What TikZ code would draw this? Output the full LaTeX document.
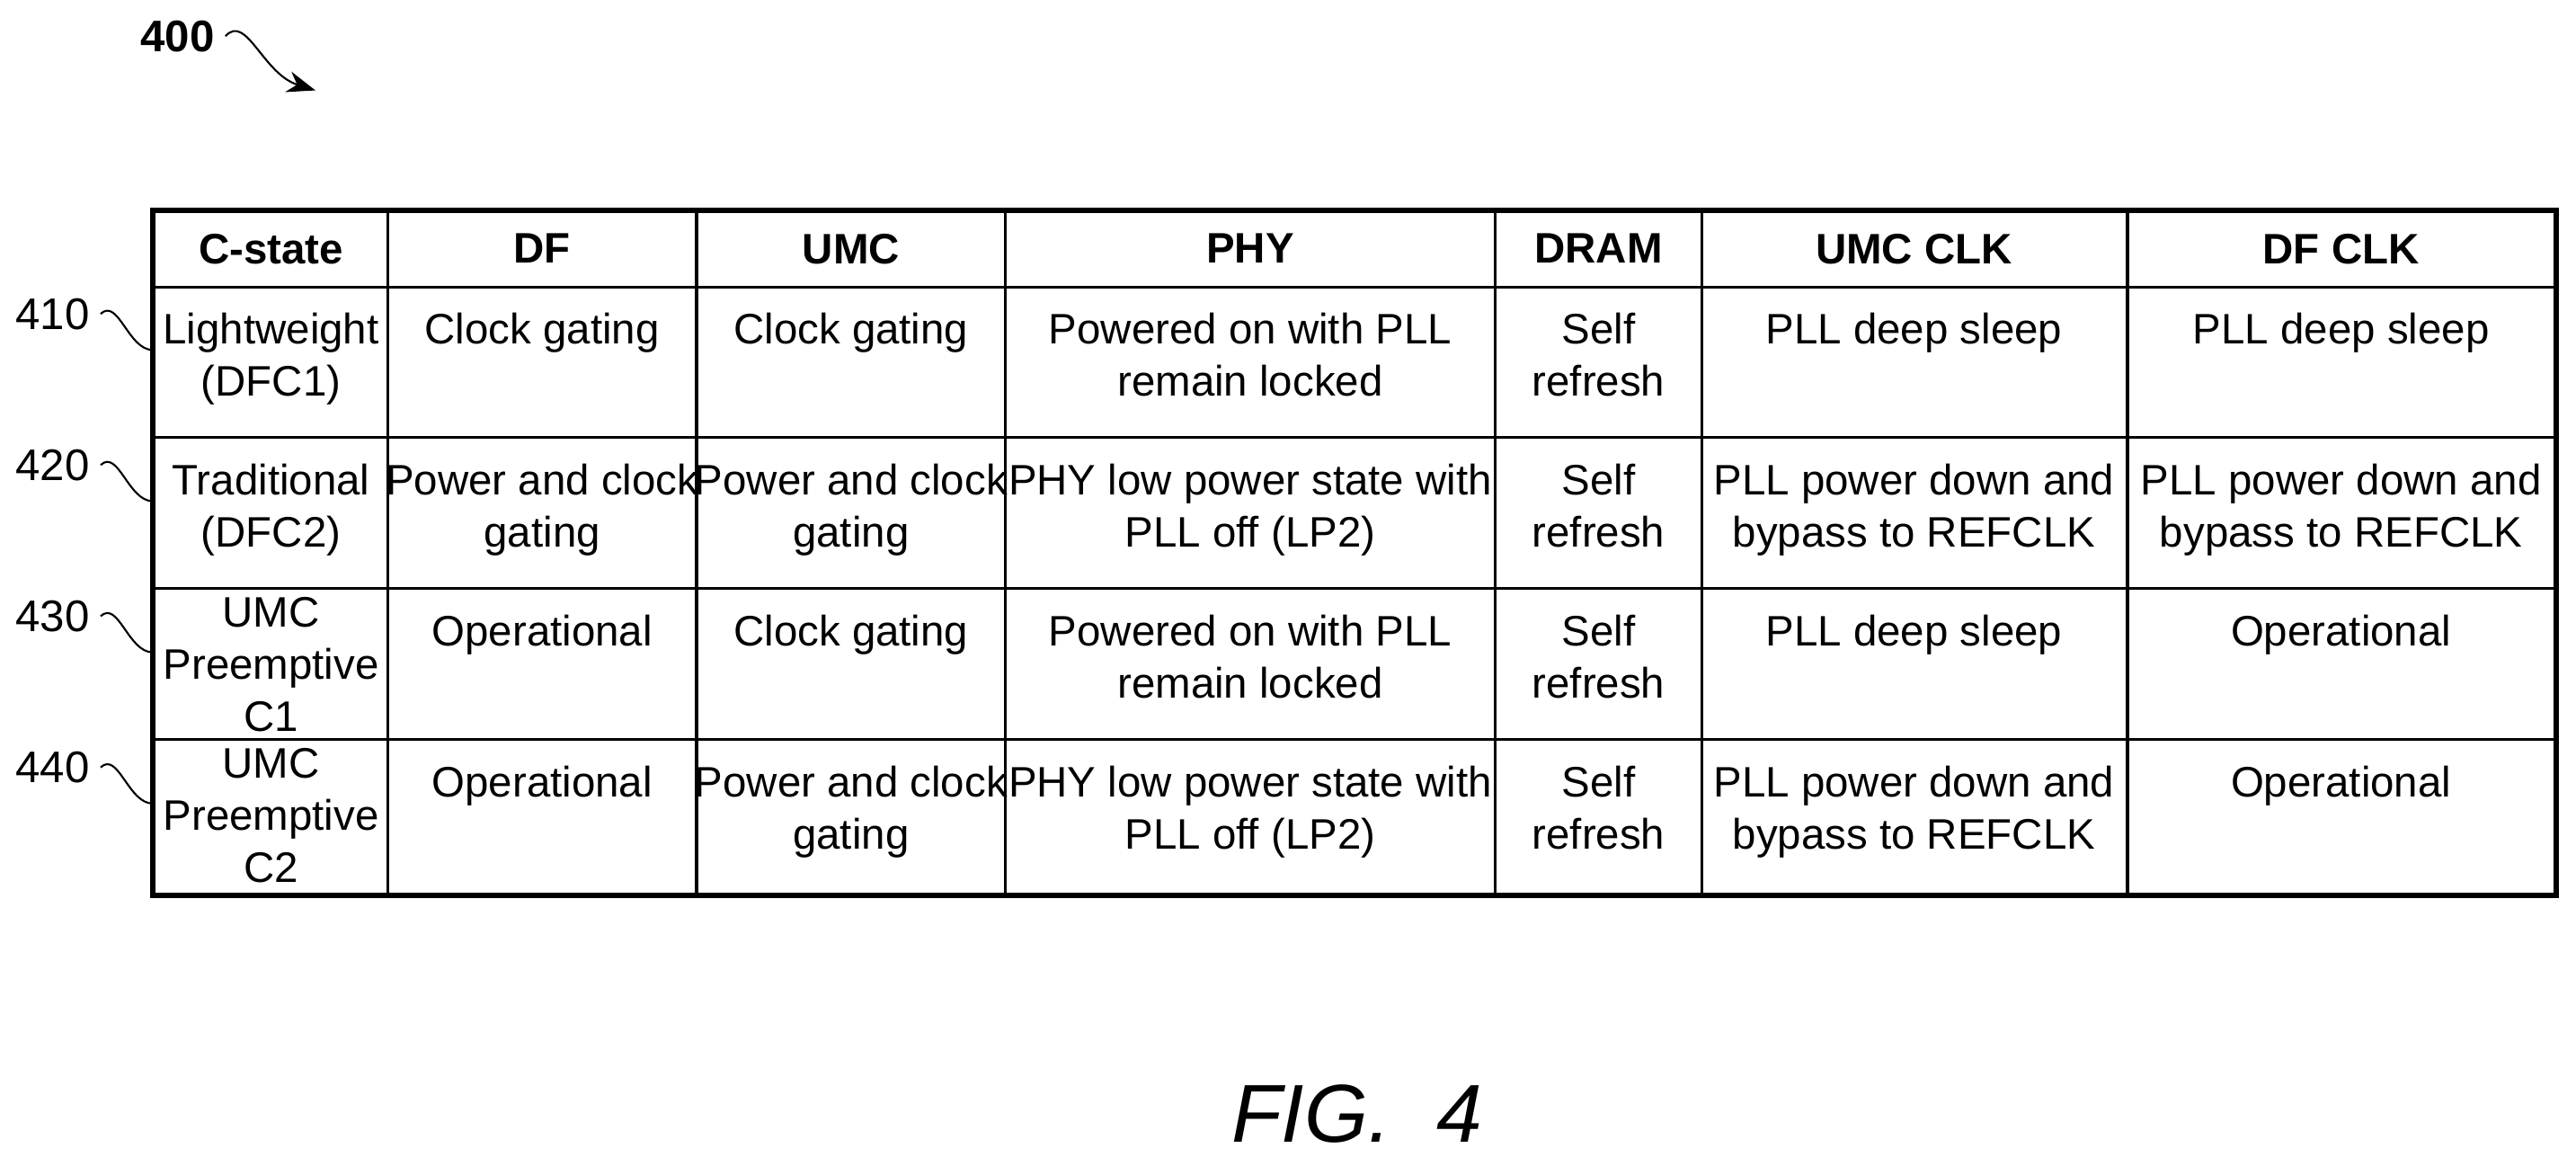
\documentclass[tikz,border=0pt]{standalone}
\usepackage{fontspec}
\setmainfont{Liberation Sans}
\usetikzlibrary{arrows.meta}
\tikzset{
  cell/.style={anchor=north,align=center,inner sep=0pt,font=\fontsize{13.5}{16.5}\selectfont},
  head/.style={cell,font=\fontsize{13.5}{16.5}\selectfont\bfseries},
  ref/.style={font=\fontsize{14}{16}\selectfont},
  leader/.style={line width=0.6pt}
}
\begin{document}
\begin{tikzpicture}[x=0.01828cm,y=-0.01828cm]
        \useasboundingbox (0,0) rectangle (1568,704);
        % frame and grid
        \draw[line width=1.6pt] (93,128) rectangle (1556,545);
        \foreach \x in {236,424,612,910,1036,1295}
          \draw[line width=0.9pt] (\x,128) -- (\x,545);
        \foreach \y in {175,266,358,450}
          \draw[line width=0.9pt] (93,\y) -- (1556,\y);
        % header
        \node[head] (hcs) at (165,142) {C-state};
        \node[head] (hdf) at (330,142) {DF};
        \node[head] (humc) at (518,142) {UMC};
        \node[head] (hphy) at (761,142) {PHY};
        \node[head] (hdram) at (973,142) {DRAM};
        \node[head] (humcclk) at (1165,142) {UMC CLK};
        \node[head] (hdfclk) at (1425,142) {DF CLK};
        % row 410
        \node[cell] (a1) at (165,190) {Lightweight\\(DFC1)};
        \node[cell] (a2) at (330,190) {Clock gating};
        \node[cell] (a3) at (518,190) {Clock gating};
        \node[cell] (a4) at (761,190) {Powered on with PLL\\remain locked};
        \node[cell] (a5) at (973,190) {Self\\refresh};
        \node[cell] (a6) at (1165,190) {PLL deep sleep};
        \node[cell] (a7) at (1425,190) {PLL deep sleep};
        % row 420
        \node[cell] (b1) at (165,282) {Traditional\\(DFC2)};
        \node[cell] (b2) at (330,282) {Power and clock\\gating};
        \node[cell] (b3) at (518,282) {Power and clock\\gating};
        \node[cell] (b4) at (761,282) {PHY low power state with\\PLL off (LP2)};
        \node[cell] (b5) at (973,282) {Self\\refresh};
        \node[cell] (b6) at (1165,282) {PLL power down and\\bypass to REFCLK};
        \node[cell] (b7) at (1425,282) {PLL power down and\\bypass to REFCLK};
        % row 430
        \node[cell] (c1) at (165,363) {UMC\\Preemptive\\C1};
        \node[cell] (c2) at (330,374) {Operational};
        \node[cell] (c3) at (518,374) {Clock gating};
        \node[cell] (c4) at (761,374) {Powered on with PLL\\remain locked};
        \node[cell] (c5) at (973,374) {Self\\refresh};
        \node[cell] (c6) at (1165,374) {PLL deep sleep};
        \node[cell] (c7) at (1425,374) {Operational};
        % row 440
        \node[cell] (d1) at (165,455) {UMC\\Preemptive\\C2};
        \node[cell] (d2) at (330,466) {Operational};
        \node[cell] (d3) at (518,466) {Power and clock\\gating};
        \node[cell] (d4) at (761,466) {PHY low power state with\\PLL off (LP2)};
        \node[cell] (d5) at (973,466) {Self\\refresh};
        \node[cell] (d6) at (1165,466) {PLL power down and\\bypass to REFCLK};
        \node[cell] (d7) at (1425,466) {Operational};
        % reference numerals
        \node[ref,font=\fontsize{14}{16}\selectfont\bfseries] (n400) at (108,22) {400};
        \coordinate (t400) at (192,55);
        \draw[leader,-{Stealth[length=9pt]}] (n400.east) .. controls (150,8) and (160,45) .. (t400);
        \foreach \r/\y in {410/195,420/287,430/379,440/471}{
          \node[ref] (n\r) at (32,\y-4) {\r};
          \coordinate (e\r) at (93,\y+18);
          \draw[leader] (n\r.east) .. controls (72,\y-14) and (78,\y+18) .. (e\r);
        }
        \node[font=\fontsize{26}{30}\selectfont\itshape] (fig) at (826,678) {FIG.~~4};
      \end{tikzpicture}
\end{document}
